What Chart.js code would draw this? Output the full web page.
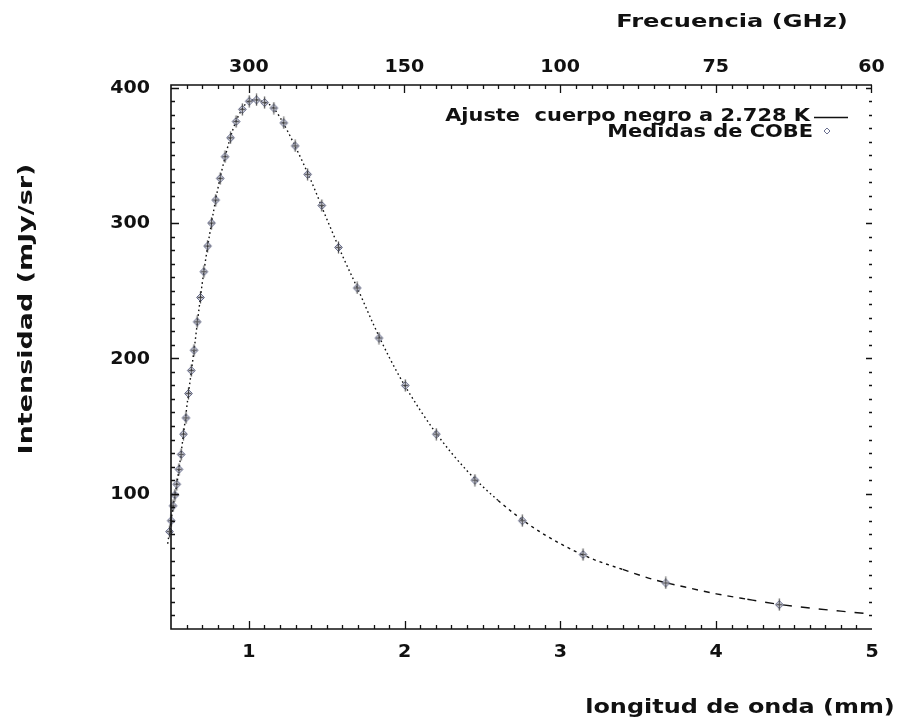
<!DOCTYPE html>
<html>
<head>
<meta charset="utf-8">
<script src="https://cdn.jsdelivr.net/npm/chart.js@4/dist/chart.umd.min.js"></script>
<style>
  html, body { margin: 0; padding: 0; background: #fff; }
  #wrap { width: 900px; height: 726px; position: relative; }
</style>
</head>
<body>
<div id="wrap"><canvas id="c" width="900" height="726"></canvas></div>
<script>
// Tick labels
const wavelengthTicks = [1, 2, 3, 4, 5];          // mm
const frequencyTicks  = [300, 150, 100, 75, 60];  // GHz
const intensityTicks  = [100, 200, 300, 400];     // mJy/sr

// COBE measurements: wavelength (mm) and intensity (mJy/sr)
const cobeWavelength = [0.479, 0.490, 0.501, 0.513, 0.525, 0.537, 0.551, 0.565, 0.580, 0.596,
                        0.612, 0.630, 0.648, 0.668, 0.689, 0.711, 0.735, 0.760, 0.787, 0.816,
                        0.847, 0.882, 0.918, 0.958, 1.002, 1.049, 1.101, 1.160, 1.224, 1.297,
                        1.377, 1.468, 1.575, 1.695, 1.835, 2.004, 2.203, 2.451, 2.755, 3.145,
                        3.676, 4.405];
const cobeIntensity  = [63, 72, 80, 91, 99, 107, 118, 129, 144, 156,
                        174, 191, 206, 227, 245, 264, 283, 300, 317, 333,
                        349, 363, 375, 384, 390, 391, 389, 385, 374, 357,
                        336, 313, 282, 252, 215, 180, 144, 110, 80, 55,
                        34, 18];

// Black-body fit at 2.728 K
const fitWavelength = [0.479, 0.50, 0.52, 0.55, 0.58, 0.61, 0.65, 0.70, 0.75, 0.80,
                       0.85, 0.90, 0.95, 1.00, 1.05, 1.10, 1.15, 1.20, 1.30, 1.40,
                       1.50, 1.60, 1.70, 1.80, 1.90, 2.00, 2.20, 2.40, 2.60, 2.80,
                       3.00, 3.20, 3.40, 3.60, 3.80, 4.00, 4.20, 4.40, 4.60, 4.80, 5.00];
const fitIntensity  = [63, 80, 95, 117, 144, 172, 208, 255, 293, 325,
                       350, 370, 383, 390, 391, 389, 386, 378, 356, 331,
                       303, 276, 251, 225, 201, 180, 145, 117, 95, 77,
                       63, 52, 44, 36.5, 31, 26, 22, 18.3, 15.5, 13.2, 11];

const C_MM_GHZ = 299.792458; // wavelength[mm] = C / frequency[GHz]
const FONT = "'DejaVu Sans', Verdana, sans-serif";

const toPoints = (xs, ys) => xs.map((x, i) => ({ x, y: ys[i] }));

// Wide bold text: font size plus horizontal stretch
function wideText(ctx, text, x, y, size, sx, align, angle) {
  ctx.save();
  ctx.translate(x, y);
  if (angle) ctx.rotate(angle);
  ctx.scale(sx, 1);
  ctx.font = `bold ${size}px ${FONT}`;
  ctx.textAlign = align || 'center';
  ctx.textBaseline = 'middle';
  ctx.fillStyle = '#111';
  ctx.fillText(text, 0, 0);
  ctx.restore();
}

// Marker: diamond with error-bar cross
function makeMarker() {
  const s = 13, c = s / 2;
  const cv = document.createElement('canvas');
  cv.width = s; cv.height = s;
  const g = cv.getContext('2d');
  g.fillStyle = 'rgba(215,218,238,0.5)';
  g.strokeStyle = '#6a7090';
  g.lineWidth = 1;
  g.beginPath();
  g.moveTo(c, c - 4); g.lineTo(c + 4, c); g.lineTo(c, c + 4); g.lineTo(c - 4, c); g.closePath();
  g.fill(); g.stroke();
  g.strokeStyle = 'rgba(20,20,20,0.7)';
  g.lineWidth = 1.3;
  g.beginPath();
  g.moveTo(c, 0.5); g.lineTo(c, s - 0.5);
  g.moveTo(c - 3, c); g.lineTo(c + 3, c);
  g.stroke();
  return cv;
}

// Axis frame and inward tick marks
const framePlugin = {
  id: 'frame',
  afterDatasetsDraw(chart) {
    const { ctx, chartArea: a, scales } = chart;
    const x = scales.x, y = scales.y, xt = scales.xTop;
    ctx.save();
    ctx.strokeStyle = '#111';
    ctx.lineWidth = 1.6;
    ctx.beginPath();
    ctx.moveTo(a.right, a.top); ctx.lineTo(a.left, a.top);
    ctx.lineTo(a.left, a.bottom); ctx.lineTo(a.right, a.bottom);
    ctx.stroke();

    ctx.lineWidth = 1.3;
    ctx.beginPath();
    for (let v = 10; v <= 400; v += 10) {
      const py = Math.round(y.getPixelForValue(v)) + 0.5;
      const major = v % 100 === 0;
      ctx.moveTo(a.left, py);  ctx.lineTo(a.left + (major ? 8 : 4), py);
      ctx.moveTo(a.right, py); ctx.lineTo(a.right - (major ? 6 : 3), py);
    }
    for (let i = 6; i <= 49; i++) {
      const px = Math.round(x.getPixelForValue(i / 10)) + 0.5;
      const major = i % 10 === 0;
      ctx.moveTo(px, a.bottom); ctx.lineTo(px, a.bottom - (major ? 8 : 4));
      if (!major) { ctx.moveTo(px, a.top); ctx.lineTo(px, a.top + 4); }
    }
    frequencyTicks.forEach(f => {
      const px = Math.round(xt.getPixelForValue(C_MM_GHZ / f)) + 0.5;
      ctx.moveTo(px, a.top); ctx.lineTo(px, a.top + 8);
    });
    ctx.stroke();
    ctx.restore();
  }
};

// Tick labels, axis titles and key
const textPlugin = {
  id: 'texts',
  afterDraw(chart) {
    const { ctx, scales } = chart;
    const x = scales.x, y = scales.y, xt = scales.xTop;

    intensityTicks.forEach(v => wideText(ctx, String(v), 150, y.getPixelForValue(v) + 1, 17, 1.12, 'right'));
    wavelengthTicks.forEach(v => wideText(ctx, String(v), x.getPixelForValue(v), 653, 17, 1.12, 'center'));
    frequencyTicks.forEach(f => wideText(ctx, String(f), xt.getPixelForValue(C_MM_GHZ / f), 68, 17, 1.12, 'center'));

    wideText(ctx, 'Frecuencia (GHz)', 732, 22, 18, 1.34, 'center');
    wideText(ctx, 'longitud de onda (mm)', 740, 708, 19, 1.26, 'center');
    wideText(ctx, 'Intensidad (mJy/sr)', 27, 309, 19, 1.42, 'center', -Math.PI / 2);

    wideText(ctx, 'Ajuste  cuerpo negro a 2.728 K', 810, 117, 17, 1.23, 'right');
    wideText(ctx, 'Medidas de COBE', 813, 133, 17, 1.23, 'right');

    ctx.save();
    ctx.strokeStyle = '#111';
    ctx.lineWidth = 1.3;
    ctx.beginPath();
    ctx.moveTo(814, 117.5); ctx.lineTo(848, 117.5);
    ctx.stroke();
    ctx.strokeStyle = '#6a7090';
    ctx.lineWidth = 1;
    ctx.beginPath();
    ctx.moveTo(827, 128); ctx.lineTo(830, 131); ctx.lineTo(827, 134); ctx.lineTo(824, 131); ctx.closePath();
    ctx.stroke();
    ctx.restore();
  }
};

function fitDash(ctx) {
  const xv = ctx.p0.parsed.x;
  if (xv < 2.6) return [1.6, 3];
  if (xv < 3.4) return [3, 4];
  if (xv < 4.2) return [6, 6];
  return [9, 9];
}

new Chart(document.getElementById('c'), {
  type: 'scatter',
  data: {
    datasets: [
      {
        label: 'Ajuste cuerpo negro a 2.728 K',
        type: 'line',
        data: toPoints(fitWavelength, fitIntensity),
        borderColor: '#111',
        borderWidth: 1.4,
        pointRadius: 0,
        cubicInterpolationMode: 'monotone',
        segment: { borderDash: fitDash },
        clip: 8,
        order: 2
      },
      {
        label: 'Medidas de COBE',
        data: toPoints(cobeWavelength, cobeIntensity),
        pointStyle: makeMarker(),
        pointRadius: 6,
        clip: 8,
        order: 1
      }
    ]
  },
  options: {
    responsive: false,
    animation: false,
    devicePixelRatio: 1,
    layout: { padding: { left: 0, top: 0, right: 28, bottom: 0 } },
    plugins: { legend: { display: false }, tooltip: { enabled: false } },
    scales: {
      x: {
        type: 'linear', position: 'bottom', min: 0.5, max: 5,
        afterBuildTicks: s => { s.ticks = wavelengthTicks.map(v => ({ value: v })); },
        afterFit: s => { s.height = 97; },
        grid: { display: false, drawTicks: false },
        border: { display: false },
        ticks: { display: false }
      },
      xTop: {
        type: 'linear', position: 'top', min: 0.5, max: 5,
        afterBuildTicks: s => { s.ticks = frequencyTicks.map(f => ({ value: C_MM_GHZ / f })); },
        afterFit: s => { s.height = 85; },
        grid: { display: false, drawTicks: false },
        border: { display: false },
        ticks: { display: false }
      },
      y: {
        type: 'linear', position: 'left', min: 0, max: 402,
        afterBuildTicks: s => { s.ticks = intensityTicks.map(v => ({ value: v })); },
        afterFit: s => { s.width = 171; },
        grid: { display: false, drawTicks: false },
        border: { display: false },
        ticks: { display: false }
      }
    }
  },
  plugins: [framePlugin, textPlugin]
});
</script>
</body>
</html>
